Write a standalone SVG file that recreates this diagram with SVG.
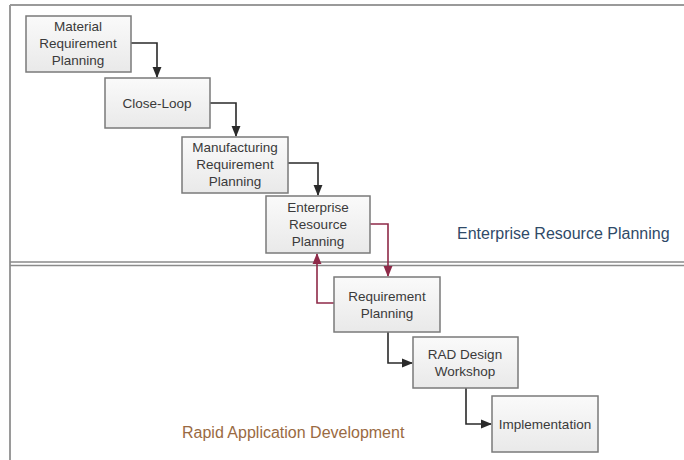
<svg xmlns="http://www.w3.org/2000/svg" width="684" height="460" viewBox="0 0 684 460">
<style>
.box{fill:url(#g);stroke:#7a7a7a;stroke-width:1.5}
.t{font-family:"Liberation Sans",Arial,sans-serif;font-size:13.5px;fill:#3a3a3a;text-anchor:middle}
.c{fill:none;stroke:#2a2a2a;stroke-width:1.6}
.r{fill:none;stroke:#8e2a48;stroke-width:1.6}
.frame{stroke:#9a9a9a;stroke-width:2;fill:none}
.lbl{font-family:"Liberation Sans",Arial,sans-serif;font-size:16px}
</style>
<defs>
<linearGradient id="g" x1="0" y1="0" x2="0" y2="1"><stop offset="0" stop-color="#fafafa"/><stop offset="1" stop-color="#e9e9e9"/></linearGradient>
<marker id="a" viewBox="0 0 10 10" refX="9" refY="5" markerWidth="7" markerHeight="7" orient="auto"><path d="M0,1 L10,5 L0,9 z" fill="#2a2a2a"/></marker>
<marker id="ar" viewBox="0 0 10 10" refX="9" refY="5" markerWidth="7" markerHeight="7" orient="auto"><path d="M0,1 L10,5 L0,9 z" fill="#8e2a48"/></marker>
</defs>
<rect width="684" height="460" fill="#ffffff"/>
<g id="frame">
<line class="frame" x1="10" y1="5" x2="684" y2="5"/>
<line class="frame" x1="10" y1="5" x2="10" y2="460"/>
<line x1="10" y1="262" x2="684" y2="262" stroke="#8a8a8a" stroke-width="1.5"/>
<line x1="10" y1="265.5" x2="684" y2="265.5" stroke="#8a8a8a" stroke-width="1.5"/>
</g>
<g id="connectors">
<path class="c" d="M131,43 H157 V77" marker-end="url(#a)"/>
<path class="c" d="M210,103 H236 V136" marker-end="url(#a)"/>
<path class="c" d="M288,163 H318 V195" marker-end="url(#a)"/>
<path class="r" d="M370,224 H388 V276" marker-end="url(#ar)"/>
<path class="r" d="M334,303 H317 V254" marker-end="url(#ar)"/>
<path class="c" d="M388,332 V363 H412" marker-end="url(#a)"/>
<path class="c" d="M466,388 V424 H491" marker-end="url(#a)"/>
</g>
<g id="n1"><rect class="box" x="26" y="16" width="105" height="56"/>
<text class="t" x="78" y="31">Material</text><text class="t" x="78" y="48">Requirement</text><text class="t" x="78" y="65">Planning</text></g>
<g id="n2"><rect class="box" x="105" y="78" width="105" height="50"/>
<text class="t" x="157" y="108">Close-Loop</text></g>
<g id="n3"><rect class="box" x="182" y="137" width="106" height="56"/>
<text class="t" x="235" y="152">Manufacturing</text><text class="t" x="235" y="169">Requirement</text><text class="t" x="235" y="186">Planning</text></g>
<g id="n4"><rect class="box" x="266" y="196" width="104" height="57"/>
<text class="t" x="318" y="212">Enterprise</text><text class="t" x="318" y="229">Resource</text><text class="t" x="318" y="246">Planning</text></g>
<g id="n5"><rect class="box" x="334" y="277" width="106" height="55"/>
<text class="t" x="387" y="301">Requirement</text><text class="t" x="387" y="318">Planning</text></g>
<g id="n6"><rect class="box" x="413" y="337" width="105" height="51"/>
<text class="t" x="465" y="359">RAD Design</text><text class="t" x="465" y="376">Workshop</text></g>
<g id="n7"><rect class="box" x="492" y="396" width="106" height="56"/>
<text class="t" x="545" y="429">Implementation</text></g>
<text class="lbl" x="457" y="239" fill="#2f4a68">Enterprise Resource Planning</text>
<text class="lbl" x="182" y="438" fill="#9a6a42">Rapid Application Development</text>
</svg>
